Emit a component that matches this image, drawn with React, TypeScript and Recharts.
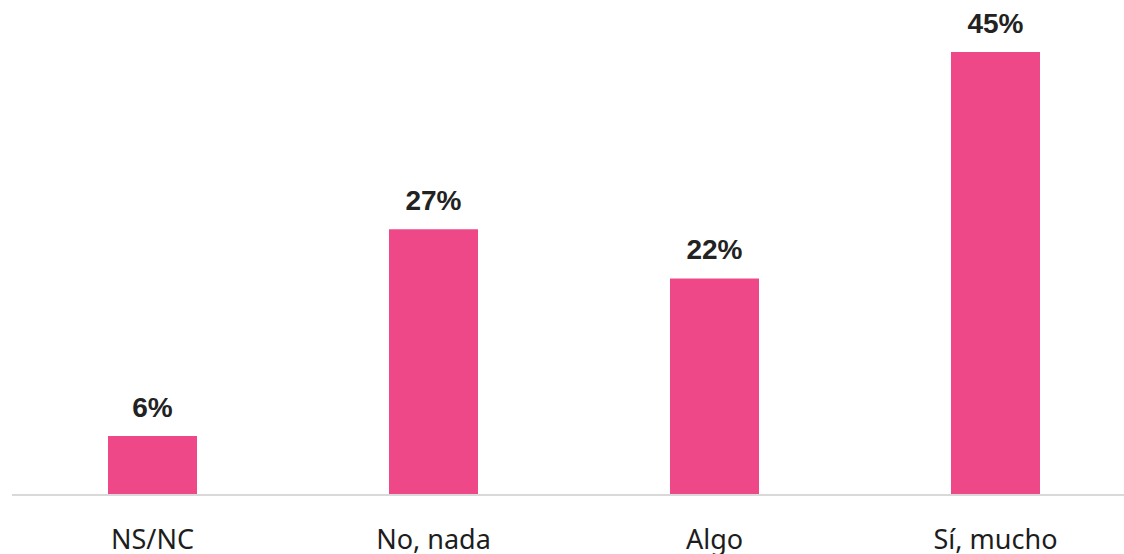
import { Bar, BarChart, LabelList, XAxis, YAxis } from "recharts";

const categories = ["NS/NC", "No, nada", "Algo", "Sí, mucho"];
const values = [6, 27, 22, 45];
const valueLabels = ["6%", "27%", "22%", "45%"];

const data = categories.map((c, i) => ({ cat: c, value: values[i], label: valueLabels[i] }));

function CatTick({ x, payload }: any) {
  return (
    <text x={x} y={549} textAnchor="middle" fontFamily="'Noto Sans', sans-serif" fontSize={27} fill="#1d1d1d">
      {payload.value}
    </text>
  );
}

function ValueLabel({ x, y, width, value }: any) {
  return (
    <text
      x={x + width / 2}
      y={y - 19}
      textAnchor="middle"
      fontFamily="'Liberation Sans', Arial, sans-serif"
      fontWeight="bold"
      fontSize={28}
      fill="#222"
    >
      {value}
    </text>
  );
}

export default function App() {
  return (
    <div style={{ position: "absolute", left: 0, top: 0, width: 1124, height: 554, overflow: "hidden", background: "#fff" }}>
      <BarChart width={1136} height={554} data={data} margin={{ top: 52, right: 0, bottom: 0, left: 12 }} barSize={89}>
        <XAxis
          dataKey="cat"
          height={59}
          axisLine={{ stroke: "#d9d9d9", strokeWidth: 2 }}
          tickLine={false}
          tick={<CatTick />}
          interval={0}
        />
        <YAxis hide domain={[0, 45]} />
        <Bar dataKey="value" fill="#EE4889" isAnimationActive={false}>
          <LabelList dataKey="label" content={<ValueLabel />} />
        </Bar>
      </BarChart>
    </div>
  );
}
